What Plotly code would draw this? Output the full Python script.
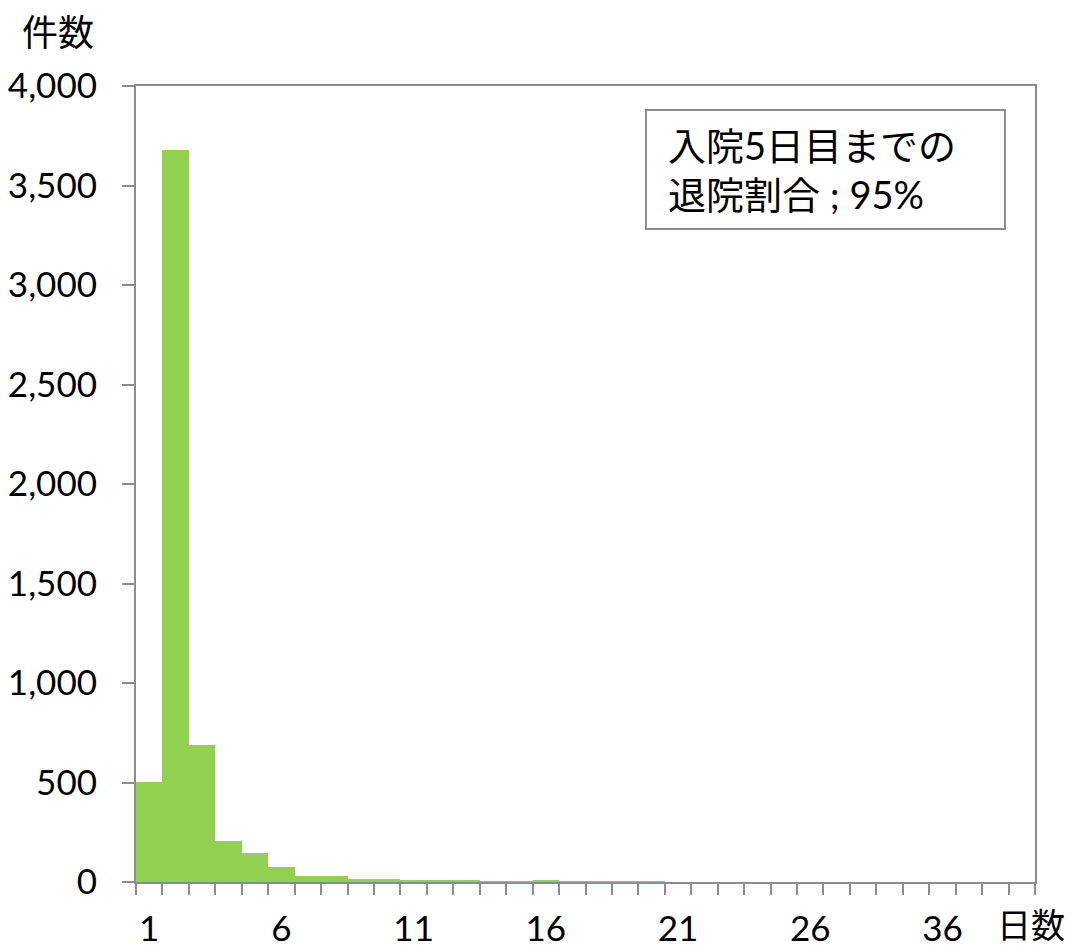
import plotly.graph_objects as go

days = list(range(1, 35))
counts = [505, 3680, 688, 207, 146, 75, 28, 30, 16, 16, 11, 7, 7, 4, 4, 6, 2, 3, 3, 2,
          0, 0, 0, 0, 0, 0, 0, 0, 0, 0, 0, 0, 0, 0]
tick_positions = [1, 6, 11, 16, 21, 26, 31]
tick_labels = ["1", "6", "11", "16", "21", "26", "36"]
y_ticks = [0, 500, 1000, 1500, 2000, 2500, 3000, 3500, 4000]
note_text = "入院5日目までの<br>退院割合 ; 95%"

FONT = "Lato, 'Noto Sans CJK JP', sans-serif"
AXIS_GRAY = "#8c8c8c"

fig = go.Figure()
fig.add_trace(go.Bar(x=days, y=counts, marker=dict(color="#92D050", line=dict(width=0)),
                     width=1.0))

fig.update_layout(
    width=1074, height=939,
    margin=dict(l=128, r=47, t=78, b=65, autoexpand=False),
    plot_bgcolor="white", paper_bgcolor="white",
    bargap=0, showlegend=False,
    font=dict(family=FONT, size=35, color="black"),
    xaxis=dict(
        range=[0.5, 34.5], tickmode="array", tickvals=tick_positions, ticktext=tick_labels,
        ticks="", showgrid=False, zeroline=False,
        showline=True, linecolor=AXIS_GRAY, linewidth=2, mirror=True,
        tickfont=dict(size=35), ticklabelstandoff=15,
        minor=dict(ticks="outside", tick0=0.5, dtick=1, ticklen=11, tickcolor=AXIS_GRAY,
                   tickwidth=2, showgrid=False),
    ),
    yaxis=dict(
        range=[0, 4000], tickmode="array", tickvals=y_ticks,
        ticktext=[f"{v:,}" for v in y_ticks],
        ticks="outside", ticklen=12, tickcolor=AXIS_GRAY, tickwidth=2,
        showgrid=False, zeroline=False,
        showline=True, linecolor=AXIS_GRAY, linewidth=2, mirror=True,
        tickfont=dict(size=35), ticklabelstandoff=18,
    ),
    shapes=[
        dict(type="rect", xref="paper", yref="paper", x0=0.5673, x1=0.9666,
             y0=0.8204, y1=0.9698, line=dict(color=AXIS_GRAY, width=2),
             fillcolor="white", layer="above"),
    ],
    annotations=[
        dict(text="件数", xref="paper", yref="paper", x=-0.129, y=1.068,
             xanchor="left", yanchor="middle", showarrow=False, font=dict(size=36)),
        dict(text="日数", xref="paper", yref="paper", x=0.955, y=-0.0535,
             xanchor="left", yanchor="middle", showarrow=False, font=dict(size=34)),
        dict(text=note_text, xref="paper", yref="paper", x=0.5895, y=0.895,
             xanchor="left", yanchor="middle", showarrow=False, align="left",
             font=dict(size=38)),
    ],
)

fig.write_html("out.html")
